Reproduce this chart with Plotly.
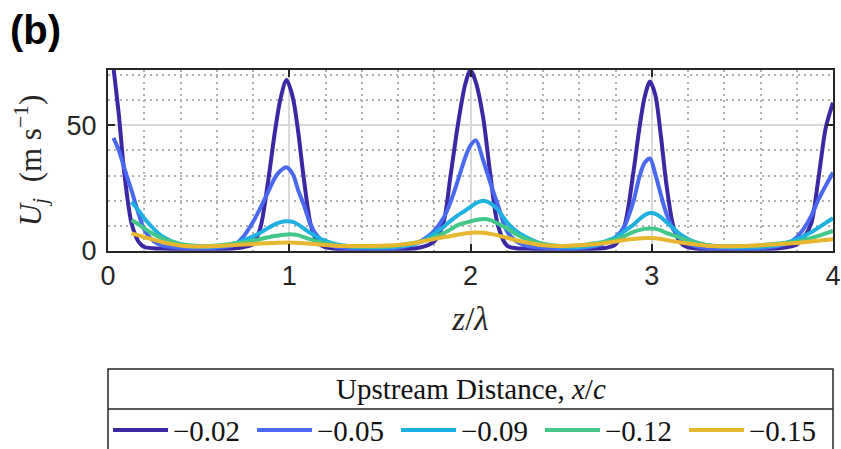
import plotly.graph_objects as go

# spanwise position z/lambda
Z = [0.03, 0.06, 0.09, 0.13, 0.17, 0.20, 0.25, 0.30, 0.40, 0.50,
     0.60, 0.70, 0.75, 0.80, 0.84, 0.88, 0.92, 0.95, 0.985, 1.02,
     1.05, 1.08, 1.12, 1.16, 1.20, 1.25, 1.30, 1.40, 1.50, 1.60,
     1.70, 1.75, 1.80, 1.85, 1.89, 1.93, 1.97, 2.00, 2.03, 2.07,
     2.11, 2.15, 2.20, 2.25, 2.30, 2.40, 2.50, 2.60, 2.70, 2.75,
     2.80, 2.85, 2.90, 2.93, 2.96, 2.99, 3.02, 3.05, 3.08, 3.12,
     3.16, 3.20, 3.25, 3.30, 3.40, 3.50, 3.60, 3.70, 3.75, 3.80,
     3.84, 3.88, 3.92, 3.96, 4.00]

U_002 = [73, 54, 31, 11, 3.5, 1.6, 1.1, 1.0, 0.9, 0.9,
         0.9, 1.1, 1.6, 2.8, 9, 26, 47, 60, 68, 61,
         47, 29, 10, 3.2, 1.4, 1.0, 0.9, 0.9, 0.9, 0.9,
         1.1, 1.9, 3.8, 11, 30, 50, 66, 72, 67, 53,
         30, 10.5, 2.2, 1.1, 1.0, 0.9, 0.9, 0.9, 1.0, 1.3,
         2.6, 10, 32, 48, 61, 67.4, 62, 46, 27, 9.5,
         3.2, 1.4, 1.0, 0.9, 0.9, 0.9, 0.9, 1.1, 1.6, 2.6,
         5.5, 11, 29, 49, 59]

U_005 = [45, 40, 33, 24, 14.5, 8.5, 4, 2.2, 1.3, 1.2,
         1.3, 2.5, 6, 11.5, 17, 23, 29, 31.8, 33.3, 30.5,
         24, 18.5, 10, 5.5, 3, 1.8, 1.3, 1.1, 1.1, 1.3,
         3, 5, 8, 13, 19.5, 28, 37, 42, 44, 36,
         27, 18.5, 8, 4, 2.3, 1.3, 1.1, 1.2, 2.2, 3.5,
         5.5, 10, 20, 29, 35, 36.8, 30.5, 22.5, 15, 8.5,
         5, 3, 1.8, 1.3, 1.1, 1.1, 1.2, 2, 3, 5.5,
         9, 14, 20.5, 26, 31.2]

U_009 = [None, None, None, 19.5, 16, 13, 9, 5.8, 2.6, 1.7,
         1.8, 3, 4.3, 5.8, 7.3, 9, 10.6, 11.4, 11.8, 11.6,
         10.5, 9, 7, 5.3, 4, 2.8, 2.2, 1.6, 1.5, 1.8,
         3, 4.5, 7, 9.5, 12, 14.2, 16, 17.5, 19, 20,
         19, 16.5, 11.5, 8, 5.8, 2.8, 1.7, 1.6, 2.6, 4,
         5.5, 8, 10.5, 12.5, 14.2, 15.1, 14.8, 13.5, 11.5, 9,
         6.5, 4.8, 3.3, 2.4, 1.7, 1.5, 1.7, 2.5, 3.5, 4.6,
         6, 7.5, 9.3, 11.2, 13]

U_012 = [None, None, None, 12.3, 10.5, 9, 6.8, 5, 2.8, 2,
         2.2, 3, 3.5, 4.1, 4.7, 5.4, 6, 6.3, 6.6, 6.6,
         6.3, 5.5, 4.6, 3.6, 3, 2.4, 2, 1.7, 1.7, 2.2,
         3.4, 4.1, 5.5, 7, 8.6, 10.3, 11.2, 11.8, 12.3, 12.7,
         12.3, 11, 9, 6.8, 5, 2.8, 2, 2.2, 3.2, 3.8,
         4.5, 6, 7.6, 8.3, 8.8, 9, 8.8, 8.2, 7.2, 6.2,
         5.2, 4.2, 3.2, 2.4, 1.9, 1.9, 2.3, 3, 3.3, 3.7,
         4.4, 5.2, 6, 7, 8]

U_015 = [None, None, None, 7, 6.2, 5.5, 4.5, 3.5, 2.2, 1.8,
         2, 2.4, 2.6, 2.8, 3, 3.1, 3.2, 3.3, 3.4, 3.3,
         3.2, 3.1, 2.9, 2.6, 2.4, 2.1, 2, 2, 2.1, 2.4,
         3.3, 4.1, 4.8, 5.5, 5.9, 6.5, 7, 7.2, 7.4, 7.3,
         6.8, 6.2, 5.3, 4.3, 3.5, 2.3, 2, 2.3, 2.8, 3.3,
         3.8, 4.4, 4.8, 5, 5.1, 5.2, 5.1, 4.8, 4.4, 3.9,
         3.4, 3, 2.5, 2.1, 1.9, 2, 2.3, 2.7, 3, 3.2,
         3.5, 3.8, 4.1, 4.4, 4.7]

SERIES_NAMES = ["\u22120.02", "\u22120.05", "\u22120.09", "\u22120.12", "\u22120.15"]
SERIES_VALUES = [U_002, U_005, U_009, U_012, U_015]
COLORS = ["#3b28a4", "#4869f0", "#1eb0e0", "#43c88a", "#e8b72f"]

X_TICKS = [0, 1, 2, 3, 4]
Y_TICKS = [0, 50]

fig = go.Figure()
for name, vals, col in zip(SERIES_NAMES, SERIES_VALUES, COLORS):
    fig.add_trace(go.Scatter(x=Z, y=vals, mode="lines", name=name,
                             line=dict(color=col, width=4, shape="spline", smoothing=0.8),
                             connectgaps=False))

axis_common = dict(
    showline=True, linecolor="#262626", linewidth=2, mirror="ticks",
    ticks="inside", ticklen=7, tickwidth=2, tickcolor="#262626",
    showgrid=True, gridcolor="#d9d9d9", gridwidth=2,
    zeroline=False,
    tickfont=dict(family="Liberation Sans, Arial, sans-serif", size=27, color="#262626"),
)

minor_grid = dict(showgrid=True, griddash="2px,4px", gridcolor="#b0b0b0", gridwidth=1.8, ticks="")

fig.update_xaxes(range=[0, 4], tickvals=X_TICKS, ticktext=[str(v) for v in X_TICKS],
                 minor=dict(dtick=0.2, tick0=0, **minor_grid),
                 title=dict(text="<i>z</i>/<i>λ</i>", standoff=16,
                            font=dict(family="Liberation Serif, serif", size=33, color="#262626")),
                 **axis_common)
fig.update_yaxes(range=[0, 72], tickvals=Y_TICKS, ticktext=[str(v) for v in Y_TICKS],
                 minor=dict(dtick=10, tick0=0, **minor_grid),
                 ticklabelstandoff=4,
                 title=dict(text="<i>U</i><sub><i>j</i></sub>&nbsp;&nbsp;(m&nbsp;s<sup>\u22121</sup>)",
                            standoff=16,
                            font=dict(family="Liberation Serif, serif", size=31, color="#262626")),
                 **axis_common)

# legend frame, title row and separator
LEG_TOP, LEG_SEP, LEG_BOT = -0.652, -0.873, -1.12
fig.add_shape(type="rect", xref="paper", yref="paper", x0=0, x1=1, y0=LEG_BOT, y1=LEG_TOP,
              line=dict(color="#262626", width=1.5), fillcolor="rgba(0,0,0,0)")
fig.add_shape(type="line", xref="paper", yref="paper", x0=0, x1=1, y0=LEG_SEP, y1=LEG_SEP,
              line=dict(color="#262626", width=1.5))
fig.add_annotation(text="Upstream Distance, <i>x</i>/<i>c</i>", xref="paper", yref="paper",
                   x=0.5, y=(LEG_TOP + LEG_SEP) / 2, xanchor="center", yanchor="middle",
                   showarrow=False,
                   font=dict(family="Liberation Serif, serif", size=29, color="#111111"))
fig.add_annotation(text="<b>(b)</b>", xref="paper", yref="paper", x=-0.138, y=1.222,
                   xanchor="left", yanchor="middle", showarrow=False,
                   font=dict(family="Liberation Sans, Arial, sans-serif", size=40, color="#000000"))

fig.update_layout(
    width=841, height=449,
    margin=dict(l=108, r=8, t=70, b=198, autoexpand=False),
    paper_bgcolor="white", plot_bgcolor="white",
    showlegend=True,
    legend=dict(orientation="h", x=0.0, xanchor="left", y=-0.99, yanchor="middle",
                bgcolor="rgba(0,0,0,0)", borderwidth=0,
                itemwidth=55, entrywidth=74, entrywidthmode="pixels",
                font=dict(family="Liberation Serif, serif", size=29, color="#111111"),
                traceorder="normal"),
)

fig.write_html("out.html")
